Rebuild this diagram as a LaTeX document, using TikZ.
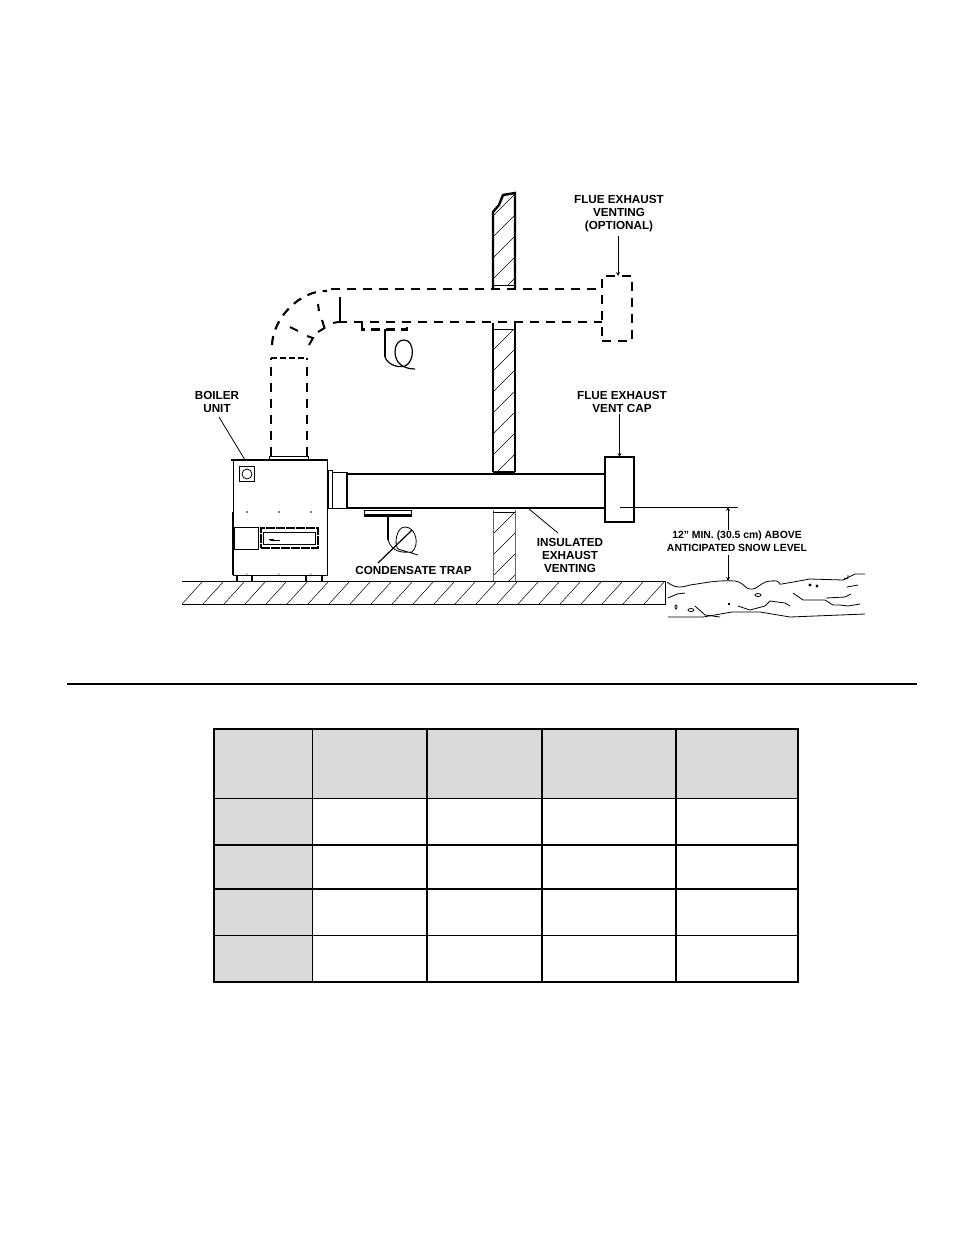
\documentclass[tikz,border=0pt]{standalone}
\usepackage{fontspec}
\setmainfont{Liberation Sans}
\begin{document}
\begin{tikzpicture}[x=1pt,y=-1pt]
        \tikzstyle{every node}=[inner sep=0pt, outer sep=0pt]
        \tikzstyle{lbl}=[align=center, font=\bfseries\fontsize{11.7}{13}\selectfont]
        \tikzstyle{pipe}=[line width=2.4pt]
        \tikzstyle{dashpipe}=[line width=2.2pt, dash pattern=on 9pt off 7pt]
        \tikzstyle{elbowcut}=[line width=2pt]
        \tikzstyle{fine}=[line width=0.8pt]
        \tikzstyle{hatch}=[line width=0.5pt]
        \tikzstyle{lead}=[line width=0.8pt, -stealth]
        \tikzstyle{cellgray}=[fill=black!15, draw=none]
        \useasboundingbox (0,0) rectangle (954,1235);
        % wall and floor hatching
        \begin{scope}
            \clip (493,212) -- (499,205) -- (503,195) -- (515,193) -- (515,285) -- (493,285) -- cycle;
            \foreach \y in {216,237,258,279,300} \draw[hatch] (493,\y) -- (515,\y-22);
        \end{scope}
        \begin{scope}
            \clip (493,329) rectangle (515,472);
            \foreach \y in {350,371,392,413,434,455,476,497} \draw[hatch] (493,\y) -- (515,\y-22);
        \end{scope}
        \begin{scope}
            \clip (493,512) rectangle (515,581);
            \foreach \y in {534,555,576,597} \draw[hatch] (493,\y) -- (515,\y-22);
        \end{scope}
        \begin{scope}
            \clip (182,581) rectangle (665,604);
            \foreach \x in {182,203,...,682} \draw[hatch] (\x,604) -- (\x+21,581);
        \end{scope}
        \draw[pipe] (493,289) -- (493,212) -- (499,205) -- (503,195) -- (515,193) -- (515,289);
        \draw[fine] (493,285) -- (515,285);
        \draw[pipe] (493,472) -- (493,323);
        \draw[pipe] (515,472) -- (515,323);
        \draw[fine] (493,329) -- (515,329);
        \draw[pipe] (493,472) -- (515,472);
        \draw[fine, black!60] (493,510) -- (493,581);
        \draw[fine, black!60] (515,510) -- (515,581);
        \draw[fine] (493,512.5) -- (515,512.5);
        \draw[line width=1pt] (182,581) -- (665,581) -- (665,604) -- (182,604);
        % snow
        \draw[fine] (667,582) .. controls (675,588) and (680,588) .. (690,585) .. controls (705,583) and (715,580) .. (735,581) .. controls (745,583) and (745,589) .. (750,589) .. controls (758,590) and (760,582) .. (770,581) .. controls (785,580) and (775,585) .. (782,584) -- (810,579) -- (843,580) -- (855,574) -- (865,574);
        \draw[fine] (668,598) -- (677,594) -- (685,593);
        \draw[fine] (695,606) -- (705,615) -- (720,617);
        \draw[fine] (668,617) -- (703,617) -- (732,612) -- (760,612) -- (790,617) -- (865,614);
        \draw[fine] (738,606) -- (750,610) -- (765,606) -- (770,601) -- (785,603) -- (790,606);
        \draw[fine] (793,593) -- (803,600) -- (825,600) -- (833,605) -- (840,605) -- (848,606) -- (860,604);
        \draw[fine] (826,598) -- (845,597) -- (851,594);
        \draw[fine] (847,587) -- (858,585);
        \draw[fine] (844,578) -- (846,579) -- (848,578) -- (848,575);
        \draw[fine] (758,595) ellipse (3 and 1.5);
        \draw[fine] (676,607) ellipse (1 and 2);
        \draw[fine] (691,610) ellipse (3 and 1.5);
        \draw[fine] (810,585) circle (1); \draw[fine] (817,586) circle (1);
        \draw[line width=1.2pt] (728,604) -- (730,604);
        % boiler
        \node (boiler) [draw, line width=1pt, fill=white, minimum width=94pt, minimum height=115pt] at (280.5,517.5) {};
        \draw[line width=1.8pt] (231,460) -- (328,460);
        \draw[line width=2.8pt] (233,512) -- (233,575);
        \draw[fine] (237,575) rectangle (252,581);
        \draw[fine] (306,575) rectangle (322,581);
        \draw[line width=1.4pt] (237,575) -- (237,581) (252,575) -- (252,581) (306,575) -- (306,581) (322,575) -- (322,581);
        \draw[fine] (269,456) rectangle (308,460);
        \node (flue) [draw, line width=0.8pt, minimum size=15pt] at (247,474) {};
        \draw[fine] (flue) circle (5);
        \foreach \x in {247,279,311} {
            \fill (\x,512) circle (0.8);
            \fill (\x,460) circle (0.7);
            \fill (\x,574) circle (0.7);
        }
        \node (panel) [draw, fine, minimum width=24pt, minimum height=22pt] at (246.5,538) {};
        \node (display) [draw, line width=2.6pt, dash pattern=on 9pt off 1pt, minimum width=57pt, minimum height=20pt] at (289.5,538) {};
        \draw[line width=0.5pt] (263.5,532) rectangle (315,544);
        \draw[line width=1pt] (270,540.5) -- (280,540.5);
        \draw[line width=1.6pt] (269,539.5) -- (274,539.5);
        % lower pipe, insulated
        \draw[fine] (328,470) rectangle (332,508);
        \draw[fine] (332,472) rectangle (347,508);
        \node (cap) [draw, line width=1.6pt, fill=white, minimum width=29pt, minimum height=65pt] at (619.5,489.5) {};
        \coordinate (pipeA) at (347,474);
        \coordinate (pipeB) at (347,508);
        \draw[pipe] (cap.west |- pipeA) -- (pipeA) -- (pipeB) -- (cap.west |- pipeB);
        \draw[line width=0.8pt] (364,510) rectangle (411,516);
        \draw[pipe] (364,515.5) -- (411,515.5);
        \draw[pipe] (388,516) -- (388,540);
        % lower trap loop
        \draw[fine] (388,540) .. controls (392,552) and (402,553) .. (412,552) .. controls (420,545) and (416,527) .. (405,527) .. controls (396,527) and (394,545) .. (398,549) -- (418,555);
        % upper pipe, optional
        \node (optcap) [draw, line width=1.4pt, dash pattern=on 9pt off 7pt, minimum width=30pt, minimum height=65pt] at (617,308.5) {};
        \coordinate (topA) at (331,289);
        \coordinate (topB) at (338,322);
        \draw[dashpipe] (topA) -- (optcap.west |- topA);
        \draw[dashpipe] (topB) -- (optcap.west |- topB);
        \draw[pipe] (340,297) -- (340,322);
        \draw[dashpipe] (271,456) -- (271,358);
        \draw[dashpipe] (307,456) -- (307,358);
        \draw[line width=1.8pt, dash pattern=on 6pt off 3pt] (271,358) -- (307,358);
        % elbow
        \draw[dashpipe] (272,345) .. controls (273,318) and (300,290) .. (327,291);
        \draw[elbowcut] (333,323) -- (338,322);
        \draw[elbowcut] (318,304) -- (319,311);
        \draw[elbowcut] (322,320) -- (324.5,328) -- (318,332);
        \draw[elbowcut] (290,327) -- (298,331);
        \draw[elbowcut] (307,336) -- (313,338) -- (309,345);
        % upper trap
        \draw[line width=2.2pt, dash pattern=on 9pt off 6pt] (362,323) -- (362,329.5) -- (407,329.5) -- (407,323);
        \draw[pipe] (385,329) -- (385,357);
        \draw[line width=1.2pt] (385,357) .. controls (388,365) and (398,368) .. (405,366) .. controls (415,362) and (415,340) .. (404,340) .. controls (394,340) and (393,355) .. (398,362) .. controls (402,367) and (408,369) .. (415,369);
        % labels
        \node (boilertxt) [lbl] at (217,401.5) {BOILER\\UNIT};
        \node (opttxt) [lbl] at (619,214) {FLUE EXHAUST\\VENTING\\(OPTIONAL)};
        \node (captxt) [lbl] at (622,401.5) {FLUE EXHAUST\\VENT CAP};
        \node (instxt) [lbl] at (570,555) {INSULATED\\EXHAUST\\VENTING};
        \node (traptxt) [lbl] at (413.5,570) {CONDENSATE TRAP};
        \node (snowtxt) [lbl, font=\bfseries\fontsize{10.4}{13}\selectfont] at (737,541.5) {12" MIN. (30.5 cm) ABOVE\\ANTICIPATED SNOW LEVEL};
        \draw[fine] (219,417) -- (245,460);
        \draw[lead] (618,236) -- (618,276);
        \draw[lead] (cap.north |- captxt.south) ++(0,2) -- (cap.north);
        \draw[fine] (558,533) -- (529,509);
        \draw[line width=1.2pt] (378,563) -- (412,530);
        % snow level dimension
        \draw[fine] (620,507) -- (738,507);
        \draw[lead] (728,530) -- (728,507);
        \draw[lead] (728,555) -- (728,581);
        % rule
        \draw[line width=1.4pt] (67,684) -- (917,684);
        % table
        \fill[cellgray] (214,729) rectangle (798,798.7);
        \foreach \y/\v in {798.7/845,845/889,889/935,935/982} \fill[cellgray] (214,\y) rectangle (312.7,\v);
        \foreach \x in {427,542,675.7} \draw[line width=1.8pt] (\x,729) -- (\x,982);
        \draw[line width=1pt] (312.7,729) -- (312.7,982);
        \draw[line width=1pt] (214,798.7) -- (798,798.7);
        \draw[line width=1.8pt] (214,845) -- (798,845);
        \draw[line width=1.8pt] (214,889) -- (798,889);
        \draw[line width=1pt] (214,935) -- (798,935);
        \draw[line width=2.8pt] (214,729) rectangle (798,982);
    \end{tikzpicture}
\end{document}
